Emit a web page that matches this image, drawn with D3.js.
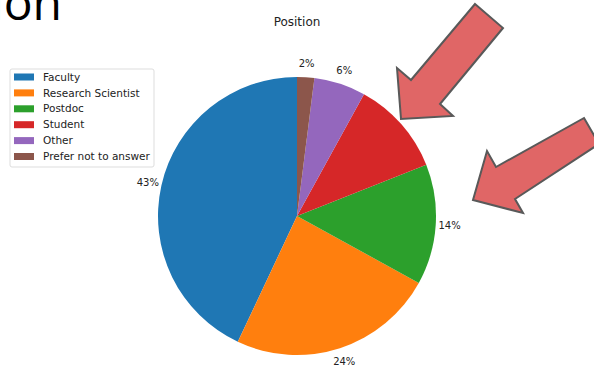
<!DOCTYPE html>
<html>
<head>
<meta charset="utf-8">
<script src="https://cdn.jsdelivr.net/npm/d3@7"></script>
<style>
  body { margin: 0; background: #fff; }
  svg { display: block; font-family: "DejaVu Sans", sans-serif; }
</style>
</head>
<body>
<div class="container"></div>
<script>
const width = 594,
    height = 370;

const categories = ['Faculty', 'Research Scientist', 'Postdoc', 'Student', 'Other', 'Prefer not to answer'];
const shares = [43, 24, 14, 11, 6, 2];
const colors = ['#1f77b4', '#ff7f0e', '#2ca02c', '#d62728', '#9467bd', '#8c564b'];

// slide arrows drawn over the chart
const arrows = [
    [[475, 4], [503, 28], [440, 104], [453, 116], [401, 119], [397, 68], [411, 80]],
    [[584, 118], [599, 144], [515, 199], [523, 213], [473, 200], [487, 151], [496, 167]]
];

const color = d3.scaleOrdinal().domain(categories).range(colors);
const pct = d3.format('.0%');
const total = d3.sum(shares);

const svg = d3.select('.container')
    .append('svg')
    .attr('width', width)
    .attr('height', height);

// cropped slide heading
svg.append('text')
    .attr('x', 62)
    .attr('y', 20)
    .attr('text-anchor', 'end')
    .style('font-family', '"Open Sans", sans-serif')
    .style('font-size', '48px')
    .attr('fill', '#000')
    .text('Position');

svg.append('text')
    .attr('x', 297)
    .attr('y', 26)
    .attr('text-anchor', 'middle')
    .style('font-size', '12px')
    .attr('fill', '#222')
    .text('Position');

const radius = 139;
const pie = d3.pie().sort(null).startAngle(0).endAngle(-2 * Math.PI);
const arc = d3.arc().innerRadius(0).outerRadius(radius);

const data = categories.map((c, i) => ({ name: c, value: shares[i] }));
const arcs = pie.value(d => d.value)(data);

const g = svg.append('g').attr('transform', 'translate(297, 216)');

g.selectAll('path')
    .data(arcs)
    .enter()
    .append('path')
    .attr('d', arc)
    .attr('fill', d => color(d.data.name));

g.selectAll('.pct')
    .data(arcs)
    .enter()
    .append('text')
    .attr('class', 'pct')
    .attr('x', d => radius * 1.1 * Math.sin((d.startAngle + d.endAngle) / 2))
    .attr('y', d => -radius * 1.1 * Math.cos((d.startAngle + d.endAngle) / 2))
    .attr('dy', '0.35em')
    .attr('text-anchor', 'middle')
    .style('font-size', '10px')
    .attr('fill', '#222')
    .text(d => pct(d.data.value / total));

// legend
const legend = svg.append('g').attr('transform', 'translate(10, 69)');
legend.append('rect')
    .attr('width', 144)
    .attr('height', 98)
    .attr('rx', 2)
    .attr('fill', '#fff')
    .attr('stroke', '#ddd');

const items = legend.selectAll('.item')
    .data(categories)
    .enter()
    .append('g')
    .attr('transform', (d, i) => `translate(0, ${8 + i * 15.9})`);

items.append('rect')
    .attr('x', 4)
    .attr('y', -3.5)
    .attr('width', 20)
    .attr('height', 7)
    .attr('fill', d => color(d));

items.append('text')
    .attr('x', 33)
    .attr('dy', '0.35em')
    .style('font-size', '10.5px')
    .attr('fill', '#222')
    .text(d => d);

svg.selectAll('.arrow')
    .data(arrows)
    .enter()
    .append('polygon')
    .attr('class', 'arrow')
    .attr('points', d => d.map(p => p.join(',')).join(' '))
    .attr('fill', '#e06666')
    .attr('stroke', '#595959')
    .attr('stroke-width', 2)
    .attr('stroke-linejoin', 'miter');
</script>
</body>
</html>
